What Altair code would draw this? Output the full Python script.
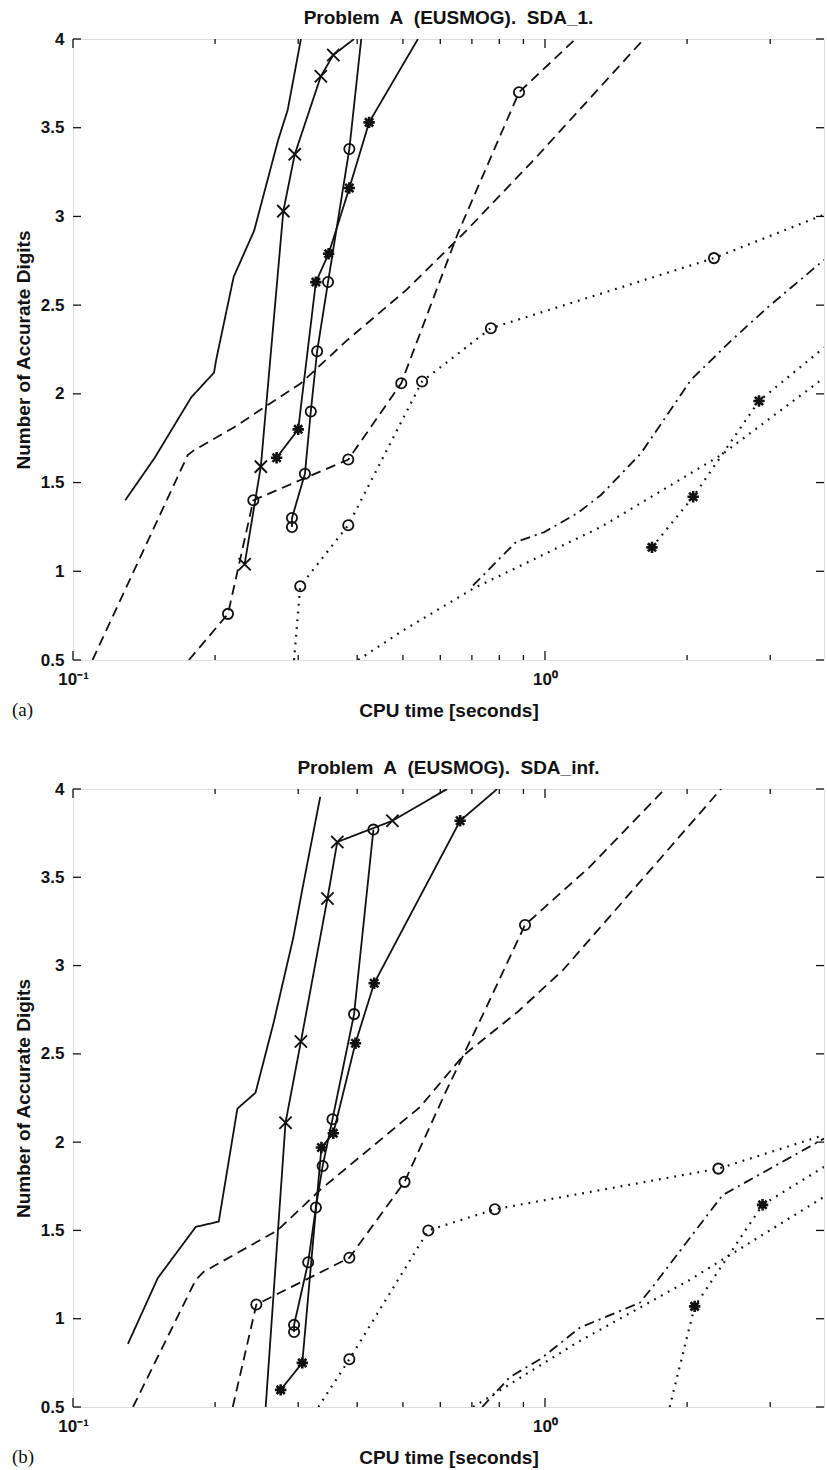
import altair as alt
import pandas as pd

# ---------------- text ----------------
TITLE_A = "Problem\u00a0 A\u00a0 (EUSMOG).\u00a0 SDA_1."
TITLE_B = "Problem\u00a0 A\u00a0 (EUSMOG).\u00a0 SDA_inf."
X_TITLE = "CPU time [seconds]"
Y_TITLE = "Number of Accurate Digits"
TAG_A = "(a)"
TAG_B = "(b)"

# ---------------- axes ----------------
X_DOMAIN = [0.1, 3.9]
Y_DOMAIN = [0.5, 4.0]
X_LABEL_VALUES = [0.1, 1.0]
X_LABEL_TEXT = ["10\u207b\u00b9", "10\u2070"]
X_MINOR = [0.2, 0.3, 0.4, 0.5, 0.6, 0.7, 0.8, 0.9, 2.0, 3.0]
Y_TICKS = [0.5, 1.0, 1.5, 2.0, 2.5, 3.0, 3.5, 4.0]

# ---------------- panel (a) ----------------
A1_X = [0.129, 0.149, 0.178, 0.199, 0.201, 0.219, 0.242, 0.272, 0.285, 0.304]
A1_Y = [1.40, 1.64, 1.98, 2.12, 2.19, 2.66, 2.92, 3.43, 3.60, 4.00]
A1_M = [0, 0, 0, 0, 0, 0, 0, 0, 0, 0]

A2_X = [0.231, 0.250, 0.279, 0.295, 0.335, 0.356, 0.394]
A2_Y = [1.04, 1.59, 3.03, 3.35, 3.79, 3.91, 4.00]
A2_M = [1, 1, 1, 1, 1, 1, 0]

A3_X = [0.291, 0.291, 0.310, 0.319, 0.329, 0.347, 0.385, 0.408]
A3_Y = [1.25, 1.30, 1.55, 1.90, 2.24, 2.63, 3.38, 4.00]
A3_M = [1, 1, 1, 1, 1, 1, 1, 0]

A4_X = [0.270, 0.300, 0.327, 0.348, 0.385, 0.424, 0.538]
A4_Y = [1.64, 1.80, 2.63, 2.79, 3.16, 3.53, 4.00]
A4_M = [1, 1, 1, 1, 1, 1, 0]

A5_X = [0.110, 0.175, 0.180, 0.219, 0.304, 0.380, 0.508, 0.670, 0.948, 1.62]
A5_Y = [0.50, 1.655, 1.68, 1.81, 2.06, 2.30, 2.585, 2.90, 3.32, 4.00]
A5_M = [0, 0, 0, 0, 0, 0, 0, 0, 0, 0]

A6_X = [0.176, 0.213, 0.241, 0.383, 0.496, 0.654, 0.881, 1.16]
A6_Y = [0.50, 0.76, 1.40, 1.63, 2.06, 2.906, 3.70, 4.00]
A6_M = [0, 1, 1, 1, 1, 0, 1, 0]

A7_X = [0.294, 0.303, 0.383, 0.549, 0.768, 2.28, 3.9]
A7_Y = [0.50, 0.916, 1.26, 2.07, 2.37, 2.765, 3.01]
A7_M = [0, 1, 1, 1, 1, 1, 0]

A8_X = [0.402, 0.496, 0.707, 1.314, 2.36, 3.9]
A8_Y = [0.50, 0.66, 0.905, 1.25, 1.655, 2.09]
A8_M = [0, 0, 0, 0, 0, 0]

A9_X = [1.685, 2.06, 2.84, 3.9]
A9_Y = [1.135, 1.42, 1.96, 2.26]
A9_M = [1, 1, 1, 0]

A10_X = [0.704, 0.868, 0.995, 1.175, 1.314, 1.597, 2.04, 2.48, 2.97, 3.9]
A10_Y = [0.92, 1.165, 1.22, 1.33, 1.43, 1.665, 2.08, 2.30, 2.49, 2.755]
A10_M = [0, 0, 0, 0, 0, 0, 0, 0, 0, 0]

# ---------------- panel (b) ----------------
B1_X = [0.1307, 0.1512, 0.182, 0.2036, 0.223, 0.2436, 0.266, 0.293, 0.306, 0.334]
B1_Y = [0.857, 1.23, 1.52, 1.55, 2.19, 2.28, 2.675, 3.16, 3.43, 3.955]
B1_M = [0, 0, 0, 0, 0, 0, 0, 0, 0, 0]

B2_X = [0.256, 0.282, 0.304, 0.346, 0.363, 0.475, 0.62]
B2_Y = [0.50, 2.11, 2.57, 3.38, 3.70, 3.82, 4.00]
B2_M = [0, 1, 1, 1, 1, 1, 0]

B3_X = [0.294, 0.294, 0.315, 0.327, 0.338, 0.3546, 0.394, 0.433]
B3_Y = [0.925, 0.965, 1.32, 1.63, 1.865, 2.13, 2.725, 3.77]
B3_M = [1, 1, 1, 1, 1, 1, 1, 1]

B4_X = [0.2754, 0.306, 0.336, 0.356, 0.3966, 0.4346, 0.661, 0.792]
B4_Y = [0.597, 0.75, 1.97, 2.05, 2.56, 2.90, 3.82, 4.00]
B4_M = [1, 1, 1, 1, 1, 1, 1, 0]

B5_X = [0.134, 0.182, 0.189, 0.271, 0.289, 0.334, 0.544, 0.671, 0.877, 1.092, 2.36]
B5_Y = [0.50, 1.22, 1.265, 1.50, 1.57, 1.73, 2.20, 2.49, 2.74, 2.975, 4.00]
B5_M = [0, 0, 0, 0, 0, 0, 0, 0, 0, 0, 0]

B6_X = [0.218, 0.2446, 0.385, 0.504, 0.62, 0.747, 0.907, 1.245, 1.794]
B6_Y = [0.50, 1.08, 1.345, 1.775, 2.30, 2.75, 3.23, 3.56, 4.00]
B6_M = [0, 1, 1, 1, 0, 0, 1, 0, 0]

B7_X = [0.331, 0.385, 0.566, 0.783, 2.33, 3.9]
B7_Y = [0.50, 0.77, 1.50, 1.62, 1.85, 2.04]
B7_M = [0, 1, 1, 1, 1, 0]

B8_X = [0.704, 1.169, 2.026, 3.9]
B8_Y = [0.50, 0.865, 1.22, 1.69]
B8_M = [0, 0, 0, 0]

B9_X = [1.837, 2.075, 2.89, 3.9]
B9_Y = [0.50, 1.07, 1.645, 1.86]
B9_M = [0, 1, 1, 0]

B10_X = [0.736, 0.843, 0.976, 1.186, 1.588, 1.69, 2.378, 3.9]
B10_Y = [0.50, 0.67, 0.77, 0.95, 1.09, 1.18, 1.70, 2.02]
B10_M = [0, 0, 0, 0, 0, 0, 0, 0]

# (name, line style, marker, x, y, marker mask)
SERIES_A = [
    ("a1", "solid", "none", A1_X, A1_Y, A1_M),
    ("a2", "solid", "x", A2_X, A2_Y, A2_M),
    ("a3", "solid", "o", A3_X, A3_Y, A3_M),
    ("a4", "solid", "*", A4_X, A4_Y, A4_M),
    ("a5", "dashed", "none", A5_X, A5_Y, A5_M),
    ("a6", "dashed", "o", A6_X, A6_Y, A6_M),
    ("a7", "dotted", "o", A7_X, A7_Y, A7_M),
    ("a8", "dotted", "none", A8_X, A8_Y, A8_M),
    ("a9", "dotted", "*", A9_X, A9_Y, A9_M),
    ("a10", "dashdot", "none", A10_X, A10_Y, A10_M),
]
SERIES_B = [
    ("b1", "solid", "none", B1_X, B1_Y, B1_M),
    ("b2", "solid", "x", B2_X, B2_Y, B2_M),
    ("b3", "solid", "o", B3_X, B3_Y, B3_M),
    ("b4", "solid", "*", B4_X, B4_Y, B4_M),
    ("b5", "dashed", "none", B5_X, B5_Y, B5_M),
    ("b6", "dashed", "o", B6_X, B6_Y, B6_M),
    ("b7", "dotted", "o", B7_X, B7_Y, B7_M),
    ("b8", "dotted", "none", B8_X, B8_Y, B8_M),
    ("b9", "dotted", "*", B9_X, B9_Y, B9_M),
    ("b10", "dashdot", "none", B10_X, B10_Y, B10_M),
]

INK = "#111111"
FONT = "Liberation Sans"
STYLES = ["solid", "dashed", "dotted", "dashdot"]
DASHES = [[1, 0], [10, 6], [1.8, 6], [10, 5, 2, 5]]
X_PATH = "M-1,-1L1,1M-1,1L1,-1"
STAR_PATH = "M0,-1L0,1M-1,0L1,0M-0.72,-0.72L0.72,0.72M-0.72,0.72L0.72,-0.72"
W = 751


def build_df(series):
    rows = []
    for name, style, marker, xs, ys, mk in series:
        for i, (x, y, m) in enumerate(zip(xs, ys, mk)):
            rows.append(dict(series=name, style=style, marker=marker, idx=i,
                             x=x, y=y, mk=bool(m)))
    return pd.DataFrame(rows)


def make_panel(series, title, tag, H):
    df = build_df(series)
    xs = alt.Scale(type="log", domain=X_DOMAIN, nice=False)
    ys = alt.Scale(domain=Y_DOMAIN, nice=False, zero=False)
    label_expr = (f"datum.value < 0.5 ? '{X_LABEL_TEXT[0]}' : '{X_LABEL_TEXT[1]}'")
    xax = alt.Axis(values=X_LABEL_VALUES, labelExpr=label_expr, ticks=False,
                   tickSize=0, domain=False, grid=False, labelFlush=False,
                   labelFont=FONT, labelFontSize=17, labelFontWeight="bold",
                   labelColor=INK, labelPadding=11, title=X_TITLE,
                   titleFont=FONT, titleFontSize=19, titleFontWeight="bold",
                   titleColor=INK, titleY=56, titleBaseline="alphabetic")
    yax = alt.Axis(values=Y_TICKS, format="~g", ticks=False, tickSize=0,
                   domain=False, grid=False, labelFont=FONT, labelFontSize=17,
                   labelFontWeight="bold", labelColor=INK, labelPadding=9,
                   title=Y_TITLE, titleFont=FONT, titleFontSize=19,
                   titleFontWeight="bold", titleColor=INK, titleX=-44,
                   titleBaseline="alphabetic")
    X = alt.X("x:Q", scale=xs, axis=xax)
    Y = alt.Y("y:Q", scale=ys, axis=yax)
    dash = alt.StrokeDash("style:N", scale=alt.Scale(domain=STYLES, range=DASHES),
                          legend=None)

    base = alt.Chart(df)
    lines = base.transform_filter("datum.style != 'dotted'").mark_line(
        clip=True, color=INK, strokeWidth=1.8).encode(
        x=X, y=Y, detail="series:N", order="idx:Q", strokeDash=dash)
    dots = base.transform_filter("datum.style == 'dotted'").mark_line(
        clip=True, color=INK, strokeWidth=2.2).encode(
        x=X, y=Y, detail="series:N", order="idx:Q", strokeDash=dash)
    mk_x = base.transform_filter("datum.mk && datum.marker == 'x'").mark_point(
        shape=X_PATH, size=150, filled=False, color=INK, strokeWidth=1.9,
        opacity=1).encode(x=X, y=Y)
    mk_o = base.transform_filter("datum.mk && datum.marker == 'o'").mark_point(
        shape="circle", size=105, filled=False, color=INK, strokeWidth=1.8,
        opacity=1).encode(x=X, y=Y)
    mk_s = base.transform_filter("datum.mk && datum.marker == '*'").mark_point(
        shape=STAR_PATH, size=130, filled=False, color=INK, strokeWidth=2.6,
        opacity=1).encode(x=X, y=Y)

    xmaj = alt.Chart(pd.DataFrame({"x": X_LABEL_VALUES}))
    xmin = alt.Chart(pd.DataFrame({"x": X_MINOR}))
    ytk = alt.Chart(pd.DataFrame({"y": Y_TICKS}))
    rule = dict(color=INK, strokeWidth=1.3)
    t1 = xmaj.mark_rule(**rule).encode(x=X, y=alt.value(H), y2=alt.value(H - 9))
    t2 = xmaj.mark_rule(**rule).encode(x=X, y=alt.value(0), y2=alt.value(9))
    t3 = xmin.mark_rule(**rule).encode(x=X, y=alt.value(H), y2=alt.value(H - 5))
    t4 = xmin.mark_rule(**rule).encode(x=X, y=alt.value(0), y2=alt.value(5))
    t5 = ytk.mark_rule(**rule).encode(y=Y, x=alt.value(0), x2=alt.value(8))
    t6 = ytk.mark_rule(**rule).encode(y=Y, x=alt.value(W), x2=alt.value(W - 8))

    tag_layer = alt.Chart(pd.DataFrame({"t": [tag]})).mark_text(
        align="left", baseline="alphabetic", font="Liberation Serif",
        fontSize=19, color=INK).encode(
        text="t:N", x=alt.value(-61), y=alt.value(H + 56))

    return alt.layer(lines, dots, mk_x, mk_o, mk_s, t1, t2, t3, t4, t5, t6,
                     tag_layer).properties(
        width=W, height=H,
        title=alt.TitleParams(text=title, font=FONT, fontSize=19,
                              fontWeight="bold", color=INK, offset=-17,
                              baseline="bottom", anchor="middle",
                              frame="group"))


panel_a = make_panel(SERIES_A, TITLE_A, TAG_A, 621)
panel_b = make_panel(SERIES_B, TITLE_B, TAG_B, 618)

chart = alt.vconcat(panel_a, panel_b, spacing=129, bounds="flush").properties(
    padding={"left": 11, "top": 8, "right": 0, "bottom": 0}
).configure_view(stroke=INK, strokeWidth=1.5).configure(background="white")

chart.save("out.html", embed_options={"renderer": "svg", "actions": False})
